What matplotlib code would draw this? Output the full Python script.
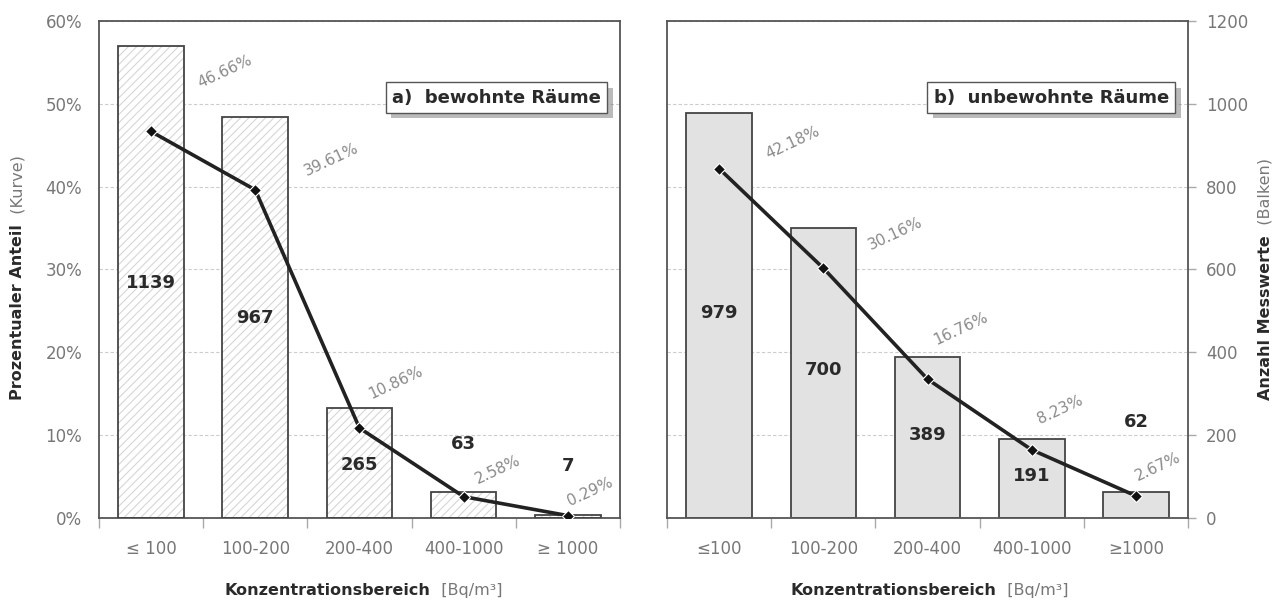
import numpy as np
from matplotlib import pyplot as plt
from matplotlib import patheffects as pe

# %% data
categories_a = ['≤ 100', '100-200', '200-400', '400-1000', '≥ 1000']
categories_b = ['≤100', '100-200', '200-400', '400-1000', '≥1000']
counts_a  = [1139, 967, 265, 63, 7]
counts_b  = [979, 700, 389, 191, 62]
percent_a = [46.66, 39.61, 10.86, 2.58, 0.29]
percent_b = [42.18, 30.16, 16.76, 8.23, 2.67]
pct_ticks   = [0, 10, 20, 30, 40, 50, 60]
count_ticks = [0, 200, 400, 600, 800, 1000, 1200]

# label layout: percent labels offset in px (right, up) from the point,
# count labels at a height on the count axis
pct_off_a = [(74, 60), (76, 30), (36, 45), (34, 27), (22, 24)]
pct_off_b = [(74, 26), (72, 35), (33, 51), (28, 40), (22, 29)]
num_y_a   = [567, 483, 128, 179, 126]
num_y_b   = [495, 357, 200, 101, 232]

plt.rcParams['font.family'] = ['DejaVu Sans']
plt.rcParams['hatch.linewidth'] = 0.8
DARK  = '#2a2a2a'
GREY  = '#777777'
FRAME = '#555555'

fig = plt.figure(figsize=(12.82, 6.08), dpi=100)


def panel(rect, counts, pcts, cats, hatched, title, pct_off, num_y, left):
    ax = fig.add_axes(rect)
    x = np.arange(len(cats))
    ax.set_xlim(-0.5, len(cats) - 0.5)
    ax.set_ylim(0, 1200)
    ax.set_yticks(count_ticks)
    ax.grid(axis='y', color='#cccccc', ls=(0, (3, 2)), lw=0.8)
    ax.set_axisbelow(True)

    if hatched:
        ax.bar(x, counts, 0.63, color='white', edgecolor='#d6d6d6',
               hatch='////', lw=0, zorder=2)
        ax.bar(x, counts, 0.63, fill=False, edgecolor='#444444', lw=1.3, zorder=3)
    else:
        ax.bar(x, counts, 0.63, color='#e2e2e2', edgecolor='#444444', lw=1.3, zorder=2)

    for i, v in enumerate(counts):
        ax.text(x[i], num_y[i], str(v), ha='center', va='center',
                fontsize=13, fontweight='bold', color=DARK, zorder=5)

    ax.set_xticks(x, cats)
    ax.set_xticks(np.arange(-0.5, len(cats)), minor=True)
    ax.tick_params(axis='x', which='major', length=0, pad=16,
                   labelsize=12, labelcolor=GREY)
    ax.tick_params(axis='x', which='minor', length=7, width=1, color='#aaaaaa')
    for s in ax.spines.values():
        s.set_color(FRAME)
        s.set_linewidth(1.3)

    ax2 = ax.twinx()
    ax2.set_ylim(0, 60)
    for s in ax2.spines.values():
        s.set_visible(False)
    ax2.plot(x, pcts, color='#222222', lw=2.6, marker='D', ms=6,
             mfc='#111111', mec='white', mew=0.8, zorder=4)
    for i, p in enumerate(pcts):
        ax2.annotate(f'{p:.2f}%', (x[i], p),
                     xytext=(pct_off[i][0] * 0.72, pct_off[i][1] * 0.72),
                     textcoords='offset points', ha='center', va='center',
                     rotation=25, fontsize=11, color='#8a8a8a')

    if left:
        ax.tick_params(axis='y', left=False, labelleft=False)
        ax2.yaxis.tick_left()
        ax2.set_yticks(pct_ticks, [f'{v}%' for v in pct_ticks])
        ax2.tick_params(axis='y', length=0, pad=12, labelsize=12, labelcolor=GREY)
    else:
        ax.yaxis.tick_right()
        ax.tick_params(axis='y', length=6, width=1, color='#aaaaaa', pad=7,
                       labelsize=12, labelcolor=GREY)
        ax2.set_yticks([])

    t = ax.text(0.963, 0.846, title, transform=ax.transAxes, ha='right', va='center',
                fontsize=13, fontweight='bold', color=DARK, zorder=6,
                bbox=dict(boxstyle='square,pad=0.35', fc='white', ec=FRAME, lw=1))
    t.get_bbox_patch().set_path_effects(
        [pe.withSimplePatchShadow(offset=(4, -4), shadow_rgbFace='#666666', alpha=0.45)])
    return ax


panel([0.0772, 0.148, 0.4064, 0.8175], counts_a, percent_a, categories_a, True,
      'a)  bewohnte Räume', pct_off_a, num_y_a, True)
panel([0.5203, 0.148, 0.4064, 0.8175], counts_b, percent_b, categories_b, False,
      'b)  unbewohnte Räume', pct_off_b, num_y_b, False)


def two_part(x, y, bold, normal, rotation):
    # bold part first, normal-weight bracket part appended after it
    t1 = fig.text(x, y, bold, fontsize=11.5, fontweight='bold', color=DARK,
                  rotation=rotation, ha='center' if rotation else 'left',
                  va='bottom' if rotation else 'center')
    if rotation:
        fig.add_artist(plt.Annotation('  ' + normal, xy=(1, 1), xycoords=t1,
                                      ha='right', va='bottom', rotation=rotation,
                                      fontsize=11.5, color=GREY))
    else:
        fig.add_artist(plt.Annotation('  ' + normal, xy=(1, 0.5), xycoords=t1,
                                      ha='left', va='center',
                                      fontsize=11.5, color=GREY))


two_part(0.014, 0.342, 'Prozentualer Anteil', '(Kurve)', 90)
two_part(0.987, 0.342, 'Anzahl Messwerte', '(Balken)', 90)
two_part(0.1755, 0.0296, 'Konzentrationsbereich', '[Bq/m³]', 0)
two_part(0.617, 0.0296, 'Konzentrationsbereich', '[Bq/m³]', 0)

fig.savefig('out.png', dpi=100)
